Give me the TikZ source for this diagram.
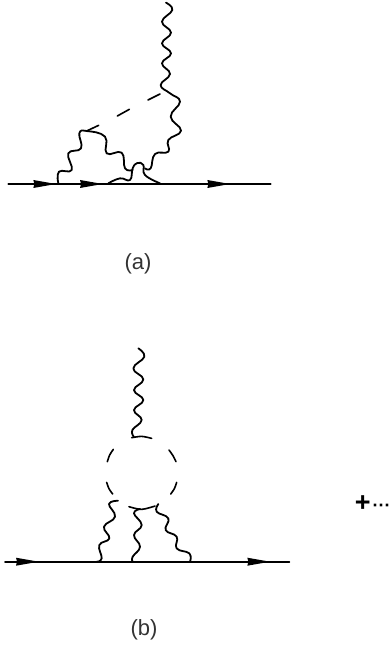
\documentclass[tikz,border=0pt]{standalone}
\usepackage{fontspec}
\setmainfont{Liberation Sans}
\tikzset{
 line/.style={black,line width=1.8pt,line cap=round},
 wave/.style={line,line join=round},
 dashpart/.style={line,line width=1.6pt},
 tipshape/.style={fill=black,draw=none},
 lab/.style={font=\fontsize{22}{24}\selectfont,text=black!80,inner sep=0pt}
}
\newcommand{\fwd}[2]{\fill[tipshape] (#1,#2-12) -- (#1+68,#2) -- (#1,#2+12) -- (#1+3,#2) -- cycle;}
\begin{document}
\begin{tikzpicture}[x=0.3333pt,y=-0.3333pt]
\useasboundingbox (0,0) rectangle (1176,1941);
% --- diagram (a)
\draw[line] (25,552) -- (812,552);
\fwd{100}{552}\fwd{240}{552}\fwd{622}{552}
\draw[wave] plot[smooth,tension=0.75] coordinates {(498,8)(517,30)(486,65)(513,98)(486,130)(513,160)(486,190)(510,222)(482,255)(510,280)(540,305)(512,350)(543,392)(505,420)(505,455)(465,462)(452,505)(435,505)};
\draw[wave] plot[smooth,tension=0.75] coordinates {(175,550)(177,515)(215,510)(205,460)(243,445)(238,400)(260,393)(315,410)(320,460)(365,458)(375,505)(398,510)};
\draw[wave] plot[smooth,tension=0.75] coordinates {(325,550)(360,535)(390,540)(398,505)(412,489)(430,495)(435,525)(480,550)};
\draw[dashpart] (260,393) -- (296,376) (352,348) -- (388,328) (444,300) -- (480,282);
\node[lab] (labela) at (414,790) {(a)};
% --- diagram (b)
\begin{scope}[yshift=-340pt]
\draw[line] (15,665) -- (868,665);
\fwd{48}{665}\fwd{742}{665}
\draw[wave] plot[smooth,tension=0.75] coordinates {(415,25)(433,50)(400,85)(430,118)(402,150)(430,180)(402,210)(425,240)(397,270)(402,291)};
\draw[wave] plot[smooth,tension=0.75] coordinates {(290,665)(305,655)(298,615)(328,595)(312,560)(345,530)(327,492)(354,482)};
\draw[wave] plot[smooth,tension=0.75] coordinates {(398,665)(398,650)(420,620)(402,585)(425,555)(402,520)(420,507)};
\draw[wave] plot[smooth,tension=0.75] coordinates {(570,665)(568,640)(530,625)(530,590)(497,570)(505,535)(470,515)(475,492)};
\draw[dashpart] plot[smooth] coordinates {(395,293)(425,289)(455,295)};
\draw[dashpart] plot[smooth] coordinates {(340,328)(329,345)(322,365)};
\draw[dashpart] plot[smooth] coordinates {(507,330)(519,347)(528,365)};
\draw[dashpart] plot[smooth] coordinates {(320,427)(327,446)(338,462)};
\draw[dashpart] plot[smooth] coordinates {(530,427)(523,446)(512,462)};
\draw[dashpart] plot[smooth] coordinates {(387,500)(425,508)(465,498)};
\end{scope}
\node[lab] (labelb) at (432,1890) {(b)};
\node[inner sep=0pt,anchor=base west] (plusdots) at (1064,1534) {\fontsize{27}{28}\selectfont\bfseries +\hspace{2pt}\fontsize{18}{20}\selectfont ···};
\end{tikzpicture}
\end{document}
